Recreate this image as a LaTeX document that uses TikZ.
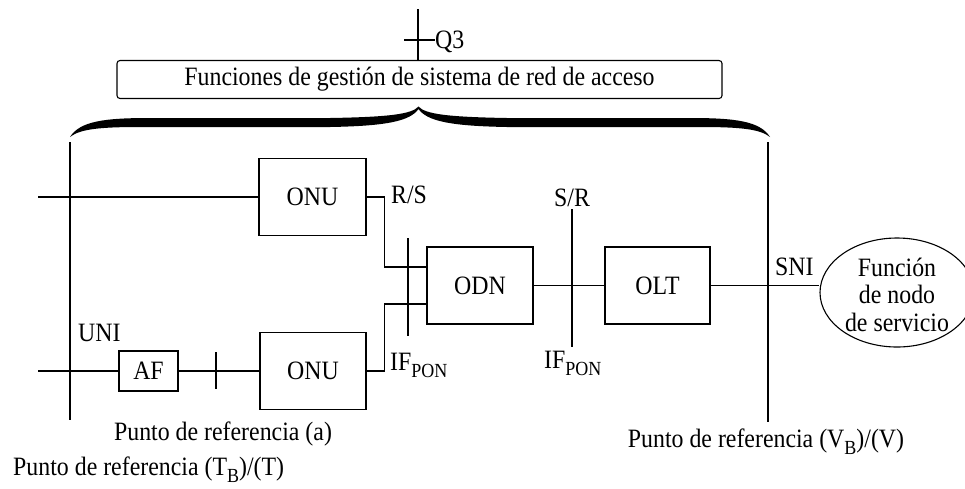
\documentclass[tikz,border=0pt]{standalone}
\usepackage{fontspec}
\setmainfont{Liberation Serif}[FakeStretch=0.9]
\usetikzlibrary{shapes.geometric,calc}
\newcommand\mysub[1]{\raisebox{-0.28em}{\fontsize{20}{21}\selectfont #1}}
\tikzset{
  txt/.style={font=\fontsize{26.5}{27.5}\selectfont, inner sep=0pt},
  blk/.style={draw, txt, rectangle, line width=1.1pt},
  ln/.style={line width=1.1pt},
}
\begin{document}
\begin{tikzpicture}[x=1pt,y=-1pt]
\useasboundingbox (0,0) rectangle (965,488);

% management box and Q3
\node[blk, rounded corners=3pt, minimum width=605, minimum height=38] (mgmt) at (419.5,79.5) {Funciones de gestión de sistema de red de acceso};
\coordinate (q3top) at (418,9);
\coordinate (q3tl) at (404,40);
\coordinate (q3tr) at (435,40);
\draw[ln] (q3top) -- (q3top |- mgmt.north);
\draw[ln] (q3tl) -- (q3tr);
\node[txt, anchor=base west] (q3) at (435,48) {Q3};

% brace
\fill (70,137) .. controls (80,121) and (105,118) .. (150,118) -- (330,118)
  .. controls (390,117) and (412,114) .. (418.5,106.5)
  .. controls (425,114) and (447,117) .. (507,118) -- (690,118)
  .. controls (735,118) and (760,121) .. (770,137)
  .. controls (760,129) and (740,127) .. (700,127) -- (507,127)
  .. controls (450,126) and (427,121) .. (418.5,109)
  .. controls (410,121) and (387,126) .. (330,127) -- (140,127)
  .. controls (100,127) and (80,129) .. (70,137) -- cycle;

% reference lines
\coordinate (lt) at (70,142);
\coordinate (lb) at (70,420);
\coordinate (rt) at (768,142);
\coordinate (rb) at (768,422);
\draw[ln] (lt) -- (lb);
\draw[ln] (rt) -- (rb);

% blocks
\node[blk, minimum width=107, minimum height=77] (onu1) at (312.5,197) {ONU};
\node[blk, minimum width=106, minimum height=77] (onu2) at (313,371) {ONU};
\node[blk, minimum width=59, minimum height=40] (af) at (148.5,371) {AF};
\node[blk, minimum width=106, minimum height=77] (odn) at (480,285.5) {ODN};
\node[blk, minimum width=105, minimum height=77] (olt) at (657.5,285.5) {OLT};
\node[draw, ellipse, line width=1.1pt, minimum width=154, minimum height=109, inner sep=0pt] (fn) at (897,292.5) {};
\node[txt, align=center] (fntext) at (897,294.5) {Función\\de nodo\\de servicio};

% inputs
\coordinate (in1) at (38,197);
\coordinate (in2) at (38,371);
\draw[ln] (in1) -- (onu1.west);
\draw[ln] (in2) -- (af.west);
\draw[ln] (af.east) -- (onu2.west);
\coordinate (t1a) at (216,352);
\coordinate (t1b) at (216,389);
\draw[ln] (t1a) -- (t1b);

% ONU to ODN
\draw[ln] (onu1.east) -- ++(18,0) |- ([yshift=18.5pt]odn.west);
\draw[ln] (onu2.east) -- ++(18,0) |- ([yshift=-18.5pt]odn.west);
\coordinate (t2a) at (408,238);
\coordinate (t2b) at (408,336);
\draw[ln] (t2a) -- (t2b);

% ODN to OLT to SN
\draw[ln] (odn.east) -- (olt.west);
\coordinate (t3a) at (572,209);
\coordinate (t3b) at (572,347);
\draw[ln] (t3a) -- (t3b);
\draw[ln] (olt.east) -- (olt.east -| fn.west);

% labels
\node[txt, anchor=base west] (uni) at (78,341) {UNI};
\node[txt, anchor=base west] (rs) at (391,203) {R/S};
\node[txt, anchor=base west] (ifpon1) at (390,370) {IF\mysub{PON}};
\node[txt, anchor=base] (sr) at (572,206) {S/R};
\node[txt, anchor=base west] (ifpon2) at (544,368) {IF\mysub{PON}};
\node[txt, anchor=base west] (sni) at (775,275) {SNI};
\node[txt, anchor=base] (pa) at (223,440) {Punto de referencia (a)};
\node[txt, anchor=base west] (pt) at (13,475) {Punto de referencia (T\mysub{B})/(T)};
\node[txt, anchor=base] (pv) at (766,447) {Punto de referencia (V\mysub{B})/(V)};
\end{tikzpicture}
\end{document}
